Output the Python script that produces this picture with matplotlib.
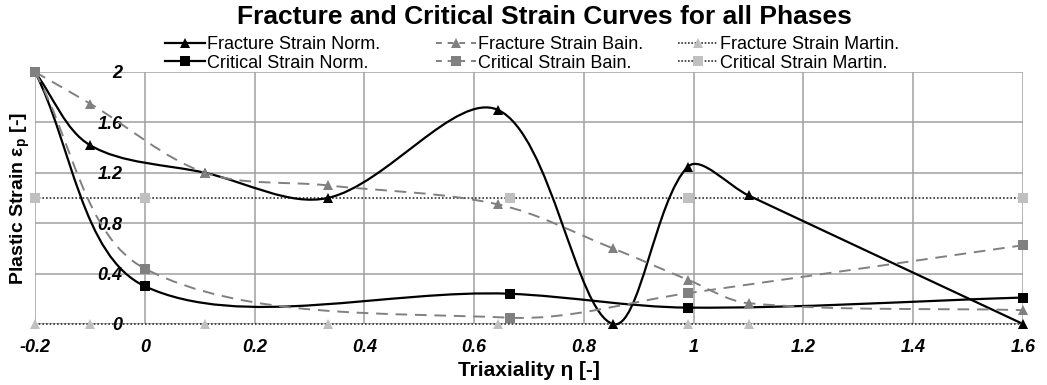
import numpy as np
import matplotlib
matplotlib.use("Agg")
import matplotlib.pyplot as plt
from matplotlib.path import Path
from matplotlib.patches import PathPatch
from matplotlib.lines import Line2D

plt.rcParams['font.family'] = ['Liberation Sans', 'DejaVu Sans']
plt.rcParams['axes.unicode_minus'] = False
plt.rcParams['mathtext.fontset'] = 'custom'
plt.rcParams['mathtext.rm'] = 'Liberation Sans:bold'
plt.rcParams['mathtext.bf'] = 'Liberation Sans:bold'

# data (triaxiality, plastic strain)
frac_x = [-0.2, -0.1, 0.11, 0.333, 0.643, 0.853, 0.99, 1.1, 1.6]
frac_norm = [2.0, 1.42, 1.2, 1.0, 1.70, 0.0, 1.25, 1.02, 0.0]
frac_bain = [2.0, 1.75, 1.2, 1.10, 0.95, 0.60, 0.35, 0.165, 0.11]
frac_mart = [0.0, 0.0, 0.0, 0.0, 0.0, 0.0, 0.0, 0.0, 0.0]

crit_x = [-0.2, 0.0, 0.665, 0.99, 1.6]
crit_norm = [2.0, 0.30, 0.24, 0.13, 0.21]
crit_bain = [2.0, 0.44, 0.05, 0.245, 0.625]
crit_mart = [1.0, 1.0, 1.0, 1.0, 1.0]

xticks = [-0.2, 0, 0.2, 0.4, 0.6, 0.8, 1, 1.2, 1.4, 1.6]
yticks = [0, 0.4, 0.8, 1.2, 1.6, 2]

BLACK = '#000000'
GRAY = '#808080'
LIGHT = '#c0c0c0'

# pixel scale of the axes, used so the smoothing behaves like it does on screen
SX, SY = 549.0, 126.0


def smooth_path(xs, ys):
    # smoothed line like a spreadsheet chart: chord-weighted Catmull-Rom -> Bezier
    pts = np.column_stack([np.array(xs) * SX, np.array(ys) * SY])
    n = len(pts)
    verts = [pts[0]]
    codes = [Path.MOVETO]
    tang = []
    for i in range(n):
        p0 = pts[max(i - 1, 0)]
        p2 = pts[min(i + 1, n - 1)]
        d0 = np.hypot(*(pts[i] - p0))
        d1 = np.hypot(*(p2 - pts[i]))
        tot = d0 + d1 if d0 + d1 > 0 else 1.0
        m = p2 - p0
        tang.append((m * d0 / tot / 3, m * d1 / tot / 3))
    for i in range(n - 1):
        verts += [pts[i] + tang[i][1], pts[i + 1] - tang[i + 1][0], pts[i + 1]]
        codes += [Path.CURVE4] * 3
    verts = np.array(verts) / [SX, SY]
    return Path(verts, codes)


fig = plt.figure(figsize=(10.47, 3.85), dpi=100)
ax = fig.add_axes([35 / 1047, 1 - 324 / 385, 988 / 1047, 252 / 385])

series = [
    (frac_x, frac_mart, '#303030', (0, (1, 1.2)), 1.2, '^', LIGHT, 'Fracture Strain Martin.'),
    (crit_x, crit_mart, '#303030', (0, (1, 1.2)), 1.2, 's', LIGHT, 'Critical Strain Martin.'),
    (frac_x, frac_norm, BLACK, '-', 1.6, '^', BLACK, 'Fracture Strain Norm.'),
    (crit_x, crit_norm, BLACK, '-', 1.6, 's', BLACK, 'Critical Strain Norm.'),
    (frac_x, frac_bain, GRAY, (0, (6, 4)), 1.4, '^', GRAY, 'Fracture Strain Bain.'),
    (crit_x, crit_bain, GRAY, (0, (6, 4)), 1.4, 's', GRAY, 'Critical Strain Bain.'),
]

handles = {}
for k, (xs, ys, lc, ls, lw, mk, mc, label) in enumerate(series):
    patch = PathPatch(smooth_path(xs, ys), facecolor='none', edgecolor=lc,
                      linestyle=ls, linewidth=lw, zorder=3 + k, clip_on=False)
    ax.add_patch(patch)
    ax.plot(xs, ys, linestyle='none', marker=mk, markersize=7, color=mc,
            markeredgewidth=0, zorder=10 + k, clip_on=False)
    hls = ls if ls == '-' else ((0, (3, 3)) if lc == GRAY else (0, (1, 1)))
    handles[label] = Line2D([], [], color=lc, linestyle=hls, linewidth=lw,
                            marker=mk, markersize=7, markerfacecolor=mc,
                            markeredgewidth=0)

ax.set_xlim(-0.2, 1.6)
ax.set_ylim(0, 2)
ax.set_xticks(xticks)
ax.set_xticklabels(['%g' % t for t in xticks])
ax.set_yticks(yticks)
ax.set_yticklabels(['%g' % t for t in yticks])
ax.grid(True, color='#a0a0a0', linewidth=1.1, zorder=0)
ax.set_axisbelow(True)
for s in ax.spines.values():
    s.set_visible(False)
ax.spines['left'].set_position(('data', 0))
ax.tick_params(axis='both', length=0, labelsize=13)
ax.tick_params(axis='y', pad=16)
ax.tick_params(axis='x', pad=11)
for lab in ax.get_xticklabels() + ax.get_yticklabels():
    lab.set_fontweight('bold')
    lab.set_fontstyle('italic')

fig.text(544 / 1047, 1 - 17 / 385, 'Fracture and Critical Strain Curves for all Phases',
         ha='center', va='center', fontsize=19, fontweight='bold')
fig.text(529 / 1047, 1 - 370 / 385, 'Triaxiality η [-]', ha='center', va='center',
         fontsize=15, fontweight='bold')
fig.text(20 / 1047, 1 - 198 / 385, r'Plastic Strain ε$_\mathrm{p}$ [-]', ha='center',
         va='center', rotation=90, fontsize=14, fontweight='bold')

columns = [
    (165, ['Fracture Strain Norm.', 'Critical Strain Norm.']),
    (436, ['Fracture Strain Bain.', 'Critical Strain Bain.']),
    (678, ['Fracture Strain Martin.', 'Critical Strain Martin.']),
]
for px, labels in columns:
    leg = fig.legend([handles[l] for l in labels], labels, loc='center left',
                     bbox_to_anchor=(px / 1047, 1 - 54 / 385), frameon=False,
                     fontsize=13, handlelength=2.2, handletextpad=0.15,
                     labelspacing=0.08, borderpad=0, borderaxespad=0, numpoints=1)

fig.savefig('out.png', dpi=100)
